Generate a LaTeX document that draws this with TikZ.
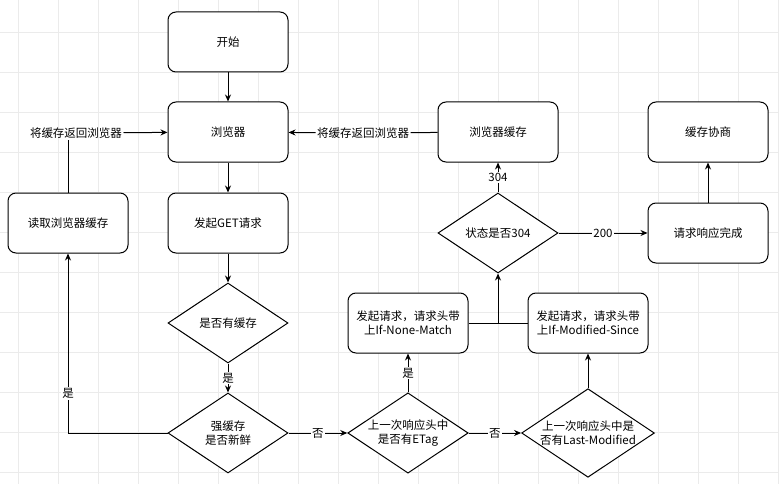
\documentclass[tikz,border=0pt]{standalone}
\usepackage{fontspec}
\setmainfont{Noto Sans CJK SC}
\usetikzlibrary{calc}
\usetikzlibrary{arrows.meta}
\usetikzlibrary{shapes.geometric}

\tikzset{
  gridline/.style={black!8, line width=0.7pt},
  box/.style={draw, fill=white, rectangle, rounded corners=8pt, minimum width=120pt, minimum height=60pt, align=center, inner sep=2pt},
  decision/.style={draw, fill=white, diamond, aspect=1.5, minimum width=120pt, minimum height=80pt, inner sep=0pt, align=center},
  flow/.style={-{Stealth[length=7pt,width=6pt]}},
  tag/.style={fill=white, inner sep=1pt}
}

\begin{document}
\begin{tikzpicture} [x=1pt, y=-1pt, line width=1pt, font=\fontsize{11.5}{14}\selectfont]
\useasboundingbox (0,0) rectangle (779,484);
\fill[white] (0,0) rectangle (779,484);
\foreach \gx in {18,58,...,778} \draw[gridline] (\gx,0)--(\gx,484);
\foreach \gy in {32,72,...,480} \draw[gridline] (0,\gy)--(779,\gy);

\node[box] (start) at (228,42) {开始};
\node[box] (browser) at (228,132) {浏览器};
\node[box] (get) at (228,223) {发起GET请求};
\node[box] (read) at (68,223) {读取浏览器缓存};
\node[decision] (hascache) at (228,323) {是否有缓存};
\node[decision] (fresh) at (228,433) {强缓存\\是否新鲜};
\node[decision] (etag) at (408,433) {上一次响应头中\\是否有ETag};
\node[decision] (lastmod) at (588,433) {上一次响应头中是\\否有Last-Modified};
\node[box] (nonematch) at (408,323) {发起请求，请求头带\\上If-None-Match};
\node[box] (modsince) at (588,323) {发起请求，请求头带\\上If-Modified-Since};
\node[decision] (is304) at (498,233) {状态是否304};
\node[box] (bcache) at (498,132) {浏览器缓存};
\node[box] (done) at (708,233) {请求响应完成};
\node[box] (nego) at (708,132) {缓存协商};
\node[inner sep=1pt] (retL) at (76,133) {将缓存返回浏览器};
\node[inner sep=1pt] (retR) at (363,133) {将缓存返回浏览器};

\coordinate (join) at ($(nonematch.east)!0.5!(modsince.west)$);

\draw[flow] (start) -- (browser);
\draw[flow] (browser) -- (get);
\draw[flow] (get) -- (hascache);
\draw[flow] (hascache) -- node[tag]{是} (fresh);
\draw[flow] (fresh.west) -| node[tag, pos=0.61]{是} (read.south);
\draw (read.north) -- (read.north |- retL.south);
\draw[flow] (retL) -- (browser);
\draw[flow] (fresh) -- node[tag]{否} (etag);
\draw[flow] (etag) -- node[tag]{是} (nonematch);
\draw[flow] (etag) -- node[tag]{否} (lastmod);
\draw[flow] (lastmod) -- (modsince);
\draw (nonematch) -- (modsince);
\draw[flow] (join) -- (is304);
\draw[flow] (is304) -- node[tag]{304} (bcache);
\draw (bcache) -- (retR);
\draw[flow] (retR) -- (browser);
\draw[flow] (is304) -- node[tag]{200} (done);
\draw[flow] (done) -- (nego);

\end{tikzpicture}
\end{document}
